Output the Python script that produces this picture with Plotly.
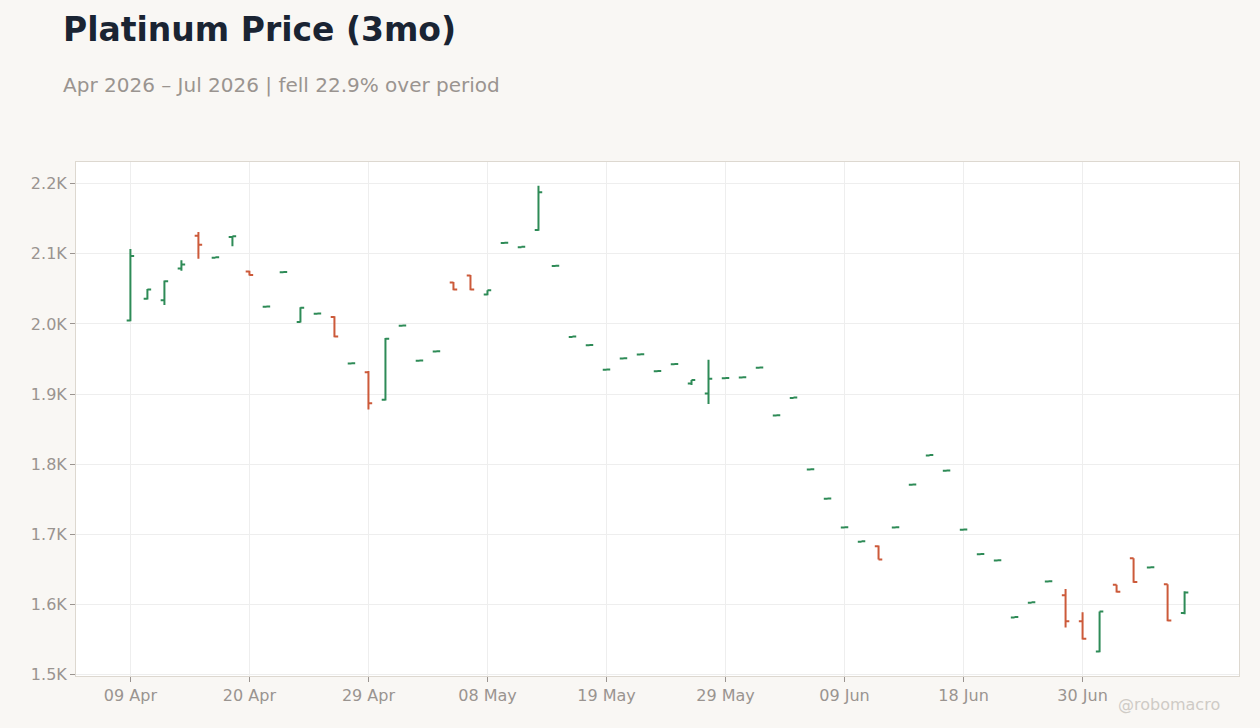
import plotly.graph_objects as go

# trading days shown on the category axis
dates = [
    "09 Apr", "10 Apr", "13 Apr", "14 Apr", "15 Apr", "16 Apr", "17 Apr", "20 Apr",
    "21 Apr", "22 Apr", "23 Apr", "24 Apr", "27 Apr", "28 Apr", "29 Apr", "30 Apr",
    "01 May", "04 May", "05 May", "06 May", "07 May", "08 May", "11 May", "12 May",
    "13 May", "14 May", "15 May", "18 May", "19 May", "20 May", "21 May", "22 May",
    "26 May", "27 May", "28 May", "29 May",
    "01 Jun", "02 Jun", "03 Jun", "04 Jun", "05 Jun", "08 Jun", "09 Jun", "10 Jun",
    "11 Jun", "12 Jun", "15 Jun", "16 Jun", "17 Jun", "18 Jun", "22 Jun", "23 Jun",
    "24 Jun", "25 Jun", "26 Jun", "29 Jun", "30 Jun",
    "01 Jul", "02 Jul", "06 Jul", "07 Jul", "08 Jul", "09 Jul",
]

opens = [2005, 2036, 2034, 2079, 2126, 2094.6, 2124, 2075, 2024.6, 2073.6, 2003, 2014.6,
         2010, 1943.6, 1931, 1892, 1997.6, 1947.6, 1960.6, 2059, 2069, 2042, 2115.6, 2109.6,
         2134, 2082.6, 1981.6, 1969.6, 1934.6, 1950.6, 1956.6, 1932.6, 1942.6, 1915, 1901, 1922.6,
         1923.6, 1937.6, 1869.6, 1894.6, 1792.6, 1750.6, 1709.6, 1689.6, 1683, 1709.6, 1770.6, 1812.6,
         1790.6, 1706.6, 1671.6, 1662.6, 1581.6, 1602.6, 1632.6, 1613, 1576, 1533, 1628, 1666,
         1652.6, 1629, 1588]
highs = [2107, 2050, 2062, 2091, 2131, 2095, 2125, 2076, 2025, 2074, 2024, 2015,
         2011, 1944, 1933, 1980, 1998, 1948, 1961, 2060, 2070, 2048, 2116, 2110,
         2197, 2083, 1982, 1970, 1935, 1951, 1957, 1933, 1943, 1920, 1949, 1923,
         1924, 1938, 1870, 1895, 1793, 1751, 1710, 1690, 1684, 1710, 1771, 1813,
         1791, 1707, 1672, 1663, 1582, 1603, 1633, 1622, 1589, 1590, 1628, 1666,
         1653, 1629, 1619]
lows = [2004, 2035, 2027, 2076, 2093, 2094.6, 2111, 2069, 2024.6, 2073.6, 2002, 2014.6,
        1981, 1943.6, 1878, 1891, 1997.6, 1947.6, 1960.6, 2048, 2048, 2041, 2115.6, 2109.6,
        2133, 2082.6, 1981.6, 1969.6, 1934.6, 1950.6, 1956.6, 1932.6, 1942.6, 1913, 1886, 1922.6,
        1923.6, 1937.6, 1869.6, 1894.6, 1792.6, 1750.6, 1709.6, 1689.6, 1664, 1709.6, 1770.6, 1812.6,
        1790.6, 1706.6, 1671.6, 1662.6, 1581.6, 1602.6, 1632.6, 1567, 1550, 1532, 1617, 1631,
        1652.6, 1576, 1586]
closes = [2097, 2049, 2061, 2085, 2113, 2095, 2125, 2070, 2025, 2074, 2023, 2015,
          1982, 1944, 1887, 1979, 1998, 1948, 1961, 2049, 2049, 2048, 2116, 2110,
          2188, 2083, 1982, 1970, 1935, 1951, 1957, 1933, 1943, 1920, 1922, 1923,
          1924, 1938, 1870, 1895, 1793, 1751, 1710, 1690, 1664, 1710, 1771, 1813,
          1791, 1707, 1672, 1663, 1582, 1603, 1633, 1576, 1551, 1590, 1618, 1632,
          1653, 1577, 1617]

x_ticks = dates[::7]
y_ticks = [1500, 1600, 1700, 1800, 1900, 2000, 2100, 2200]
y_labels = ["1.5K", "1.6K", "1.7K", "1.8K", "1.9K", "2.0K", "2.1K", "2.2K"]

GREEN = "#2e8b57"
RED = "#cc5a3a"
GREY = "#9a9490"

fig = go.Figure(go.Ohlc(
    x=dates, open=opens, high=highs, low=lows, close=closes,
    increasing=dict(line=dict(color=GREEN, width=2)),
    decreasing=dict(line=dict(color=RED, width=2)),
    tickwidth=0.22,
    showlegend=False,
))

fig.update_layout(
    width=1260,
    height=728,
    margin=dict(l=76, r=21, t=162, b=52),
    paper_bgcolor="#f9f7f4",
    plot_bgcolor="#ffffff",
    font=dict(family="DejaVu Sans", color=GREY, size=16),
    showlegend=False,
    xaxis=dict(
        type="category",
        rangeslider=dict(visible=False),
        range=[-3.2, len(dates) - 1 + 3.2],
        tickvals=x_ticks,
        ticktext=x_ticks,
        showgrid=True, gridcolor="#eeeeee",
        ticks="outside", ticklen=5, tickcolor=GREY,
        showline=True, linecolor="#ddd8d0", mirror=True,
        tickfont=dict(size=16, color=GREY),
    ),
    yaxis=dict(
        range=[1498, 2231],
        tickvals=y_ticks,
        ticktext=y_labels,
        showgrid=True, gridcolor="#eeeeee",
        ticks="outside", ticklen=5, tickcolor=GREY,
        showline=True, linecolor="#ddd8d0", mirror=True,
        zeroline=False,
        tickfont=dict(size=16, color=GREY),
    ),
    annotations=[
        dict(text="<b>Platinum Price (3mo)</b>", xref="paper", yref="paper",
             x=-0.013, y=1.257, xanchor="left", yanchor="middle", showarrow=False,
             font=dict(size=33, color="#1a2433", family="DejaVu Sans")),
        dict(text="Apr 2026 – Jul 2026 | fell 22.9% over period", xref="paper", yref="paper",
             x=-0.013, y=1.150, xanchor="left", yanchor="middle", showarrow=False,
             font=dict(size=20, color=GREY, family="DejaVu Sans")),
        dict(text="@robomacro", xref="paper", yref="paper",
             x=0.985, y=-0.056, xanchor="right", yanchor="middle", showarrow=False,
             font=dict(size=16, color="#cfcbc6", family="DejaVu Sans")),
    ],
)

fig.write_html("out.html", config={"displayModeBar": False},
               post_script="document.body.style.margin='0';")
